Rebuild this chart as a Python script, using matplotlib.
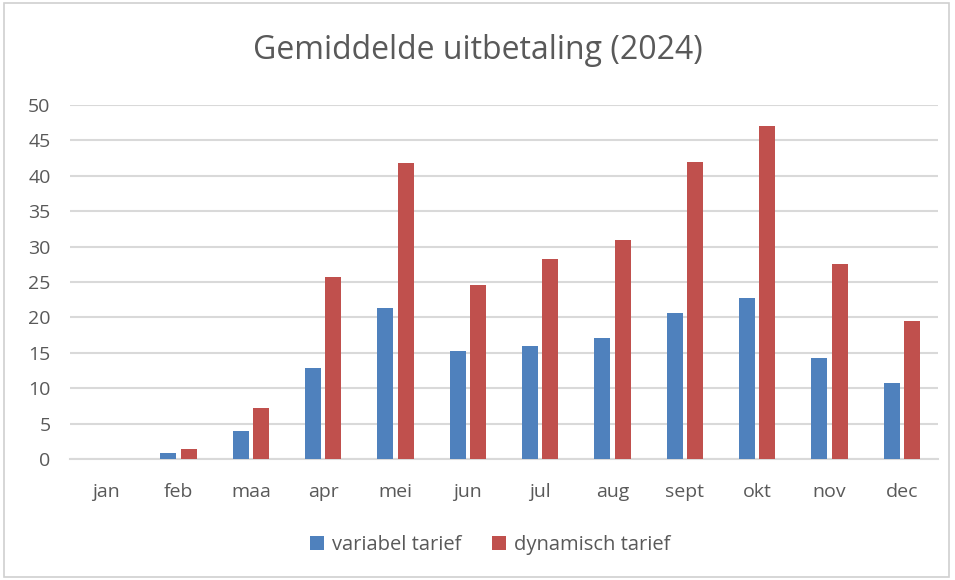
import numpy as np
import matplotlib as mpl
mpl.use('Agg')
import matplotlib.pyplot as plt
from matplotlib.patches import Rectangle

mpl.rcParams['font.family'] = ['Open Sans', 'DejaVu Sans']

maanden = ['jan', 'feb', 'maa', 'apr', 'mei', 'jun', 'jul', 'aug',
           'sept', 'okt', 'nov', 'dec']
variabel = [0, 0.8, 3.9, 12.8, 21.3, 15.2, 15.9, 17.1, 20.6, 22.8, 14.3, 10.8]
dynamisch = [0, 1.4, 7.2, 25.7, 41.8, 24.6, 28.2, 30.9, 42.0, 47.1, 27.5, 19.5]
yticks = [0, 5, 10, 15, 20, 25, 30, 35, 40, 45, 50]

blauw = '#4f81bd'
rood = '#c0504d'
tekst = '#595959'
grid = '#d9d9d9'

fig = plt.figure(figsize=(9.55, 5.8), dpi=100)
fig.patch.set_facecolor('white')
fig.patches.append(Rectangle((0.004, 0.006), 0.99, 0.988, transform=fig.transFigure,
                             fill=False, edgecolor='#d0d0d0', linewidth=1.2))

ax = fig.add_axes([70 / 955, 121 / 580, 868 / 955, 354 / 580])
x = np.arange(len(maanden))
w = 0.22
ax.bar(x - 0.14, variabel, w, color=blauw, label='variabel tarief', zorder=3)
ax.bar(x + 0.14, dynamisch, w, color=rood, label='dynamisch tarief', zorder=3)

ax.set_xlim(-0.5, len(maanden) - 0.5)
ax.set_ylim(0, 50)
ax.set_yticks(yticks)
ax.set_xticks(x)
ax.set_xticklabels(maanden)
ax.yaxis.grid(True, color=grid, linewidth=1.5, zorder=0)
ax.set_axisbelow(True)
for s in ['top', 'right', 'left']:
    ax.spines[s].set_visible(False)
ax.spines['bottom'].set_color(grid)
ax.spines['bottom'].set_linewidth(1.5)
ax.tick_params(length=0, colors=tekst, labelsize=14)
ax.tick_params(axis='y', pad=14)
ax.tick_params(axis='x', pad=17)

fig.text(0.5, 0.913, 'Gemiddelde uitbetaling (2024)', ha='center', va='center',
         fontsize=23, color=tekst)

fig.legend(loc='center', bbox_to_anchor=(0.513, 0.06), ncol=2, frameon=False,
           fontsize=14.5, labelcolor=tekst, handlelength=0.7, handleheight=0.7,
           handletextpad=0.4, columnspacing=1.5)

fig.savefig('out.png', dpi=100)
